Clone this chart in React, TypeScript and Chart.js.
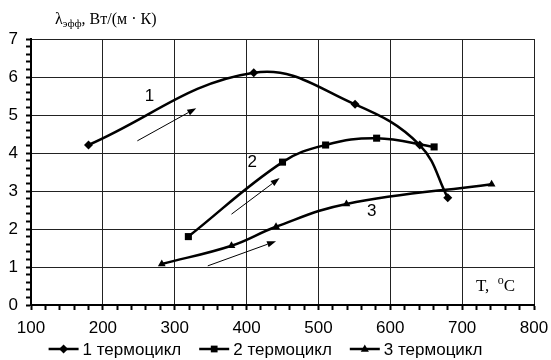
import React, { useEffect, useRef } from 'react';
import { Chart, registerables } from 'chart.js';

Chart.register(...registerables);

// ---- data ----
const series1X = [180, 410, 551, 641, 680];
const series1Y = [4.21, 6.11, 5.28, 4.21, 2.82];
const series2X = [319, 450, 510, 581, 661];
const series2Y = [1.8, 3.76, 4.21, 4.39, 4.16];
const series3X = [282, 379, 441, 539, 741];
const series3Y = [1.08, 1.56, 2.06, 2.66, 3.18];
const seriesNames = ['1 термоцикл', '2 термоцикл', '3 термоцикл'];
const seriesMarkers = ['rectRot', 'rect', 'triangle'];

const curveLabels = ['1', '2', '3'];
const curveLabelX = [265, 408, 574];
const curveLabelY = [5.5, 3.76, 2.47];

const arrowX0 = [248, 379, 346];
const arrowY0 = [4.32, 2.39, 1.03];
const arrowX1 = [330, 446, 441];
const arrowY1 = [5.18, 3.34, 1.68];

const xMin = 100;
const xMax = 800;
const xMajor = 100;
const xMinor = 20;
const yMin = 0;
const yMax = 7;
const yMajor = 1;
const yMinor = 0.2;

const yTitleMain = 'λ';
const yTitleSub = 'эфф';
const yTitleRest = ', Вт/(м · К)';
const xTitleMain = 'T,  ';
const xTitleSup = 'o';
const xTitleEnd = 'C';

const SANS = '"Liberation Sans", Arial, sans-serif';
const SERIF = '"Liberation Serif", "Times New Roman", serif';

function isMajor(v: number, step: number) {
  const r = v / step;
  return Math.abs(r - Math.round(r)) < 1e-6;
}

function drawMarker(ctx: CanvasRenderingContext2D, style: string, x: number, y: number, r: number) {
  ctx.beginPath();
  if (style === 'rectRot') {
    ctx.moveTo(x, y - r);
    ctx.lineTo(x + r, y);
    ctx.lineTo(x, y + r);
    ctx.lineTo(x - r, y);
  } else if (style === 'rect') {
    const s = r * 0.75;
    ctx.rect(x - s, y - s, 2 * s, 2 * s);
  } else {
    ctx.moveTo(x, y - r);
    ctx.lineTo(x + r * 0.9, y + r * 0.6);
    ctx.lineTo(x - r * 0.9, y + r * 0.6);
  }
  ctx.closePath();
  ctx.fill();
}

const overlayPlugin = {
  id: 'overlay',
  afterDatasetsDraw(chart: any) {
    const ctx: CanvasRenderingContext2D = chart.ctx;
    const xs = chart.scales.x;
    const ys = chart.scales.y;
    ctx.save();
    ctx.fillStyle = '#000';
    ctx.strokeStyle = '#000';

    // arrows
    for (let i = 0; i < arrowX0.length; i++) {
      const x0 = xs.getPixelForValue(arrowX0[i]);
      const y0 = ys.getPixelForValue(arrowY0[i]);
      const x1 = xs.getPixelForValue(arrowX1[i]);
      const y1 = ys.getPixelForValue(arrowY1[i]);
      const ang = Math.atan2(y1 - y0, x1 - x0);
      const hl = 9;
      const hw = 3.2;
      const bx = x1 - hl * Math.cos(ang);
      const by = y1 - hl * Math.sin(ang);
      ctx.lineWidth = 1;
      ctx.beginPath();
      ctx.moveTo(x0, y0);
      ctx.lineTo(bx, by);
      ctx.stroke();
      ctx.beginPath();
      ctx.moveTo(x1, y1);
      ctx.lineTo(bx - hw * Math.sin(ang), by + hw * Math.cos(ang));
      ctx.lineTo(bx + hw * Math.sin(ang), by - hw * Math.cos(ang));
      ctx.closePath();
      ctx.fill();
    }

    // curve labels
    ctx.font = '17px ' + SANS;
    ctx.textAlign = 'center';
    ctx.textBaseline = 'middle';
    for (let i = 0; i < curveLabels.length; i++) {
      ctx.fillText(curveLabels[i], xs.getPixelForValue(curveLabelX[i]), ys.getPixelForValue(curveLabelY[i]));
    }

    // y axis title
    ctx.textAlign = 'left';
    ctx.textBaseline = 'alphabetic';
    let tx = 55;
    const tb = 24;
    ctx.font = '16px ' + SERIF;
    ctx.fillText(yTitleMain, tx, tb);
    tx += ctx.measureText(yTitleMain).width;
    ctx.font = '11px ' + SERIF;
    ctx.fillText(yTitleSub, tx, tb + 3);
    tx += ctx.measureText(yTitleSub).width;
    ctx.font = '16px ' + SERIF;
    ctx.fillText(yTitleRest, tx, tb);

    // x axis title inside plot
    let ux = 476;
    const ub = 291;
    ctx.font = '17px ' + SERIF;
    ctx.fillText(xTitleMain, ux, ub);
    ux += ctx.measureText(xTitleMain).width;
    ctx.font = '12px ' + SERIF;
    ctx.fillText(xTitleSup, ux, ub - 7);
    ux += ctx.measureText(xTitleSup).width;
    ctx.font = '17px ' + SERIF;
    ctx.fillText(xTitleEnd, ux, ub);

    // legend
    ctx.font = '17px ' + SANS;
    ctx.textBaseline = 'middle';
    const lineLen = 30;
    const gapTxt = 4;
    const gapItem = 18;
    const widths = seriesNames.map((n) => lineLen + gapTxt + ctx.measureText(n).width);
    const total = widths.reduce((a, b) => a + b, 0) + gapItem * (seriesNames.length - 1);
    let lx = 265.5 - total / 2;
    const ly = 349;
    for (let i = 0; i < seriesNames.length; i++) {
      ctx.lineWidth = 2.5;
      ctx.beginPath();
      ctx.moveTo(lx, ly);
      ctx.lineTo(lx + lineLen, ly);
      ctx.stroke();
      drawMarker(ctx, seriesMarkers[i], lx + lineLen / 2, ly, 4.5);
      ctx.fillText(seriesNames[i], lx + lineLen + gapTxt, ly + 1);
      lx += widths[i] + gapItem;
    }
    ctx.restore();
  },
};

export default function App() {
  const ref = useRef<HTMLCanvasElement | null>(null);

  useEffect(() => {
    if (!ref.current) return;
    const mk = (xs: number[], ys: number[]) => xs.map((x, i) => ({ x, y: ys[i] }));
    const common = {
      borderColor: '#000',
      backgroundColor: '#000',
      borderWidth: 2.5,
      pointBorderColor: '#000',
      pointBackgroundColor: '#000',
      pointBorderWidth: 0,
      tension: 0.4,
      fill: false,
    };
    const chart = new Chart(ref.current, {
      type: 'line',
      data: {
        datasets: [
          { ...common, label: seriesNames[0], data: mk(series1X, series1Y), pointStyle: 'rectRot', pointRadius: 4.5 },
          { ...common, label: seriesNames[1], data: mk(series2X, series2Y), pointStyle: 'rect', pointRadius: 5 },
          { ...common, label: seriesNames[2], data: mk(series3X, series3Y), pointStyle: 'triangle', pointRadius: 4.5 },
        ],
      },
      options: {
        animation: false,
        responsive: false,
        maintainAspectRatio: false,
        devicePixelRatio: 1,
        layout: { padding: { left: 0, top: 39, right: 17, bottom: 0 } },
        plugins: { legend: { display: false }, tooltip: { enabled: false }, title: { display: false } },
        scales: {
          x: {
            type: 'linear',
            min: xMin,
            max: xMax,
            afterFit: (s: any) => {
              s.height = 55;
              s.paddingLeft = 0;
              s.paddingRight = 0;
            },
            afterBuildTicks: (s: any) => {
              const t = [];
              for (let v = xMin; v <= xMax + 1e-9; v += xMinor) t.push({ value: Math.round(v * 1000) / 1000 });
              s.ticks = t;
            },
            ticks: {
              autoSkip: false,
              maxRotation: 0,
              minRotation: 0,
              padding: 8,
              color: '#000',
              font: { family: SANS, size: 17 },
              callback: (v: any) => (isMajor(Number(v), xMajor) ? String(v) : ''),
            },
            grid: {
              color: (c: any) => (c.tick && isMajor(c.tick.value, xMajor) ? '#222' : 'rgba(0,0,0,0)'),
              tickColor: '#000',
              tickLength: 5,
              tickWidth: 2,
              lineWidth: 1,
            },
            border: { color: '#000', width: 2 },
          },
          y: {
            type: 'linear',
            min: yMin,
            max: yMax,
            afterFit: (s: any) => {
              s.width = 31;
              s.paddingTop = 0;
              s.paddingBottom = 0;
            },
            afterBuildTicks: (s: any) => {
              const t = [];
              for (let i = 0; i <= Math.round((yMax - yMin) / yMinor); i++) t.push({ value: Math.round((yMin + i * yMinor) * 1000) / 1000 });
              s.ticks = t;
            },
            ticks: {
              autoSkip: false,
              padding: 8,
              color: '#000',
              font: { family: SANS, size: 17 },
              callback: (v: any) => (isMajor(Number(v), yMajor) ? String(v) : ''),
            },
            grid: {
              color: (c: any) => (c.tick && isMajor(c.tick.value, yMajor) ? '#222' : 'rgba(0,0,0,0)'),
              tickColor: '#000',
              tickLength: 5,
              tickWidth: 2,
              lineWidth: 1,
            },
            border: { color: '#000', width: 2 },
          },
        },
      },
      plugins: [overlayPlugin],
    } as any);
    return () => chart.destroy();
  }, []);

  return (
    <div style={{ position: 'fixed', left: 0, top: 0, width: 551, height: 360, background: '#fff' }}>
      <canvas ref={ref} width={551} height={360} style={{ width: 551, height: 360, display: 'block' }} />
    </div>
  );
}
